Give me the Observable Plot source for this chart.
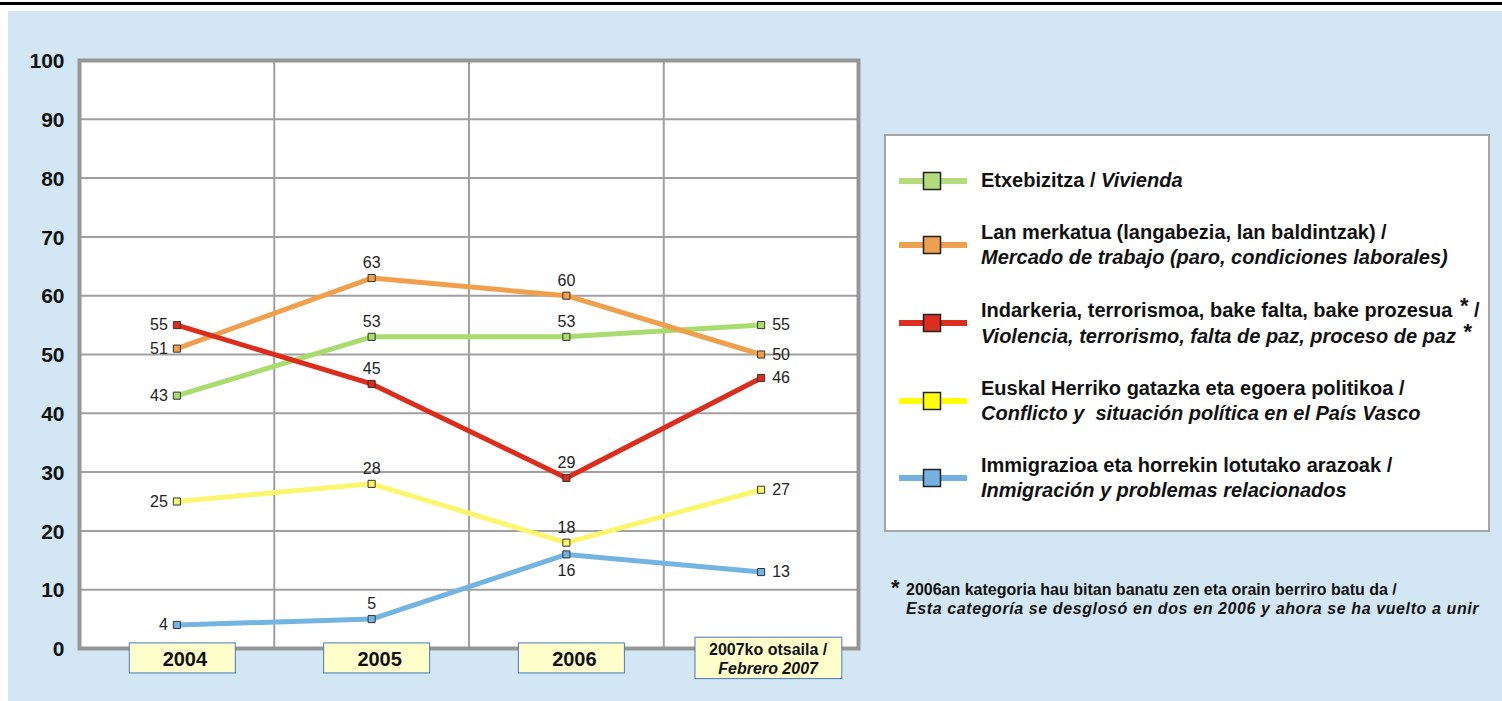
<!DOCTYPE html>
<html><head><meta charset="utf-8">
<script src="https://cdn.jsdelivr.net/npm/d3@7"></script>
<script src="https://cdn.jsdelivr.net/npm/@observablehq/plot@0.6"></script>
<style>
body{margin:0;background:#fff;font-family:"Liberation Sans",Arial,sans-serif;}
#page{position:relative;width:1502px;height:701px;overflow:hidden;}
#topline{position:absolute;left:0;top:2px;width:1502px;height:3px;background:#000;}
#panel{position:absolute;left:8px;top:11px;width:1494px;height:690px;background:#d3e6f4;}
#chart{position:absolute;left:0;top:0;}
#legend{position:absolute;left:884px;top:134px;width:602px;height:394px;background:#fff;border:2px solid #a6a6a6;box-sizing:content-box;}
#legend .items{position:absolute;left:13px;top:32px;display:flex;flex-direction:column;gap:27px;}
#legend .item{display:flex;align-items:center;}
#legend .txt{margin-left:14px;font-size:20px;font-weight:bold;line-height:25px;color:#111;white-space:nowrap;}
#legend .star{font-size:22px;position:relative;top:-4px;margin-left:2px;}
#note{position:absolute;left:891px;top:580px;font-size:16px;font-weight:bold;line-height:19px;color:#111;white-space:nowrap;}
#note .ast{position:absolute;left:0;top:-2px;font-size:22px;}
#note .lines{margin-left:15px;}
#note i{letter-spacing:0.6px;}
</style>
</head>
<body>
<div id="page">
  <div id="topline"></div>
  <div id="panel"></div>
  <div id="chart"></div>
  <div id="legend"><div class="items"></div></div>
  <div id="note"></div>
</div>
<script>
const years = ["2004", "2005", "2006", "2007ko otsaila /\nFebrero 2007"];
const seriesEu = [
  "Etxebizitza",
  "Lan merkatua (langabezia, lan baldintzak)",
  "Indarkeria, terrorismoa, bake falta, bake prozesua",
  "Euskal Herriko gatazka eta egoera politikoa",
  "Immigrazioa eta horrekin lotutako arazoak"
];
const seriesEs = [
  "Vivienda",
  "Mercado de trabajo (paro, condiciones laborales)",
  "Violencia, terrorismo, falta de paz, proceso de paz",
  "Conflicto y\u00a0 situación política en el País Vasco",
  "Inmigración y problemas relacionados"
];
const starred = [false, false, true, false, false];
const vivienda    = [43, 53, 53, 55];
const mercado     = [51, 63, 60, 50];
const violencia   = [55, 45, 29, 46];
const conflicto   = [25, 28, 18, 27];
const inmigracion = [4, 5, 16, 13];
const yTicks = [0, 10, 20, 30, 40, 50, 60, 70, 80, 90, 100];
const lineColors   = ["#a9dc6e", "#f0a04c", "#dc2c1c", "#fbf66e", "#74b4e0"];
const legendColors = ["#b4dc7c", "#eda050", "#dc2e20", "#ffff00", "#74b0e0"];
const noteEu = "2006an kategoria hau bitan banatu zen eta orain berriro batu da /";
const noteEs = "Esta categoría se desglosó en dos en 2006 y ahora se ha vuelto a unir";

const values = [vivienda, mercado, violencia, conflicto, inmigracion];
const rows = [];
values.forEach((vals, s) => vals.forEach((v, i) => rows.push({series: seriesEu[s], s, xi: i, value: v})));
const last = years.length - 1;
function place(d) {
  if (d.xi === 0) return "left";
  if (d.xi === last) return "right";
  const crowded = rows.some(o => o.xi === d.xi && o.s !== d.s && o.value > d.value && o.value - d.value <= 4);
  return crowded ? "below" : "above";
}
rows.forEach(d => d.pos = place(d));
const idx = years.map((_, i) => i);
const bounds = idx.slice(0, -1).map(i => i + 0.5);
const font = "'Liberation Sans', Arial, sans-serif";

const plot = Plot.plot({
  width: 880, height: 701,
  marginLeft: 79, marginRight: 22, marginTop: 60, marginBottom: 53,
  style: {fontFamily: font, background: "transparent", overflow: "visible"},
  x: {domain: [-0.5, years.length - 0.5], axis: null},
  y: {domain: [0, 100], axis: null},
  color: {domain: seriesEu, range: lineColors},
  marks: [
    Plot.frame({fill: "white", stroke: "none"}),
    Plot.ruleY(yTicks.slice(1, -1), {stroke: "#a0a0a0", strokeWidth: 2}),
    Plot.ruleX(bounds, {stroke: "#a0a0a0", strokeWidth: 2}),
    Plot.frame({stroke: "#969696", strokeWidth: 4}),
    Plot.axisY({ticks: yTicks, tickSize: 0, tickPadding: 15, fontSize: 21, fontWeight: "bold", fill: "#111", label: null, dy: 1}),
    Plot.line(rows, {x: "xi", y: "value", z: "series", stroke: "series", strokeWidth: 5, strokeLinejoin: "round"}),
    Plot.dot(rows, {x: "xi", y: "value", symbol: "square", r: 4, fill: "series", stroke: "#333", strokeWidth: 1}),
    Plot.text(rows.filter(d => d.pos === "left"), {x: "xi", y: "value", text: d => String(d.value), textAnchor: "end", dx: -9, fontSize: 16, fill: "#222"}),
    Plot.text(rows.filter(d => d.pos === "right"), {x: "xi", y: "value", text: d => String(d.value), textAnchor: "start", dx: 11, fontSize: 16, fill: "#222"}),
    Plot.text(rows.filter(d => d.pos === "above"), {x: "xi", y: "value", text: d => String(d.value), dy: -15, fontSize: 16, fill: "#222"}),
    Plot.text(rows.filter(d => d.pos === "below"), {x: "xi", y: "value", text: d => String(d.value), dy: 16, fontSize: 16, fill: "#222"}),
    Plot.text(idx.filter(i => !years[i].includes("\n")), {x: d => d, text: d => years[d], frameAnchor: "bottom", dy: 11, dx: 8, lineAnchor: "middle", fontSize: 20, fontWeight: "bold", fill: "#111", className: "xlab"}),
    Plot.text(idx.filter(i => years[i].includes("\n")), {x: d => d, text: d => years[d], frameAnchor: "bottom", dy: 10, dx: 7, lineAnchor: "middle", lineHeight: 1.15, fontSize: 16, fontWeight: "bold", fill: "#111", className: "xlab"})
  ]
});
document.getElementById("chart").appendChild(plot);

// boxes behind category labels
const svgRect = plot.getBoundingClientRect();
const ns = "http://www.w3.org/2000/svg";
plot.querySelectorAll("g.xlab").forEach(g => {
  const boxG = document.createElementNS(ns, "g");
  g.querySelectorAll("text").forEach(t => {
    const tsp = t.querySelectorAll("tspan");
    const multi = tsp.length > 1;
    if (multi) tsp[tsp.length - 1].setAttribute("font-style", "italic");
    const r = t.getBoundingClientRect();
    const cx = r.left - svgRect.left + r.width / 2 - (multi ? 0 : 3);
    const cy = r.top - svgRect.top + r.height / 2;
    const w = Math.max(r.width + 28, 106);
    const h = multi ? r.height + 6 : 30;
    const rect = document.createElementNS(ns, "rect");
    rect.setAttribute("x", cx - w / 2);
    rect.setAttribute("y", cy - h / 2 - 1);
    rect.setAttribute("width", w);
    rect.setAttribute("height", h);
    rect.setAttribute("fill", "#ffffcc");
    rect.setAttribute("stroke", "#4a78c0");
    rect.setAttribute("stroke-width", 1);
    boxG.appendChild(rect);
  });
  g.parentNode.insertBefore(boxG, g);
});

// legend
const items = document.querySelector("#legend .items");
seriesEu.forEach((name, s) => {
  const item = document.createElement("div");
  item.className = "item";
  const sw = d3.create("svg").attr("width", 68).attr("height", 20);
  sw.append("line").attr("x1", 0).attr("x2", 68).attr("y1", 10).attr("y2", 10)
    .attr("stroke", legendColors[s]).attr("stroke-width", 6);
  sw.append("rect").attr("x", 24.5).attr("y", 1.5).attr("width", 17).attr("height", 17)
    .attr("fill", legendColors[s]).attr("stroke", "#222").attr("stroke-width", 1.5);
  item.appendChild(sw.node());
  const txt = document.createElement("div");
  txt.className = "txt";
  const star = starred[s] ? '<span class="star">*</span>' : "";
  if (s === 0) {
    txt.innerHTML = `${name} / <i>${seriesEs[s]}</i>`;
  } else {
    txt.innerHTML = `${name}${star ? " " + star : ""} /<br><i>${seriesEs[s]}</i>${star ? " " + star : ""}`;
  }
  item.appendChild(txt);
  items.appendChild(item);
});

// footnote
document.getElementById("note").innerHTML =
  `<span class="ast">*</span><div class="lines">${noteEu}<br><i>${noteEs}</i></div>`;
</script>
</body></html>
